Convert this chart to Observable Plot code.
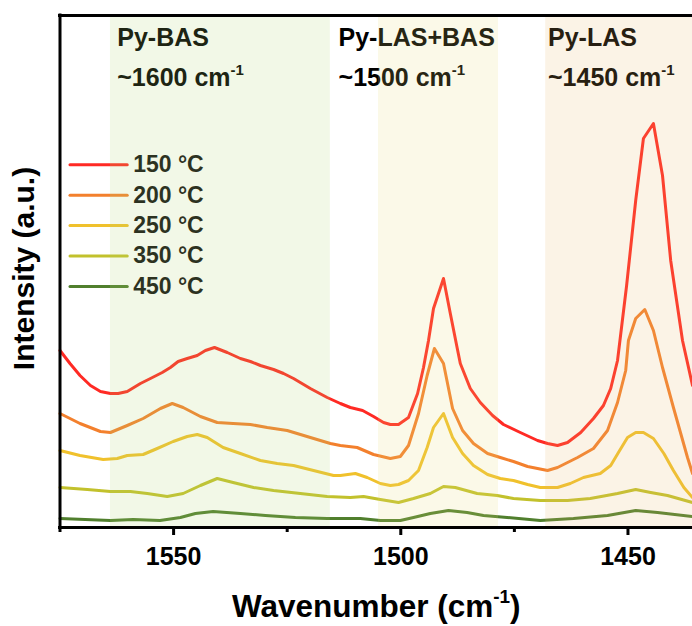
<!DOCTYPE html>
<html><head><meta charset="utf-8">
<script src="https://cdn.jsdelivr.net/npm/d3@7"></script>
<script src="https://cdn.jsdelivr.net/npm/@observablehq/plot@0.6"></script>
<style>
html,body{margin:0;padding:0;background:#fff;overflow:hidden;}
svg{display:block}
</style></head><body><div id="chart"></div>
<script>
// ---- series ----
const temps = ["150 °C", "200 °C", "250 °C", "350 °C", "450 °C"];
const colors = ["#ff2a24", "#f3802d", "#f0c12c", "#c2c12c", "#507f2d"];

const wn150 = [1575,1572.8,1570.6,1568.3,1566.1,1563.9,1562.2,1560.2,1557.3,1555.1,1552.5,1550.7,1549.0,1547.0,1544.8,1543.0,1541.0,1538.2,1535.3,1533.1,1530.9,1528.0,1525.8,1523.6,1519.9,1516.2,1513.3,1511.1,1508.4,1506.0,1503.8,1502.3,1500.5,1498.3,1496.3,1495.0,1493.9,1492.8,1490.6,1489.1,1487.7,1486.9,1484.7,1482.5,1479.8,1477.4,1473.7,1469.9,1467.7,1465.5,1463.3,1460.4,1457.6,1455.4,1453.8,1452.3,1450.3,1448.3,1446.6,1444.4,1442.4,1440.6,1438.0,1435.8];
const int150 = [177,164,152,142,136,134,134,136,144,149,155,160,166,169,172,177,180,175,169,166,162,158,154,149,139,130,124,120,117,111,105,103,103,110,134,160,187,219,249,214,182,164,139,125,112,103,95,87,84,82,85,95,109,122,139,167,242,327,389,404,352,267,187,142];

const wn200 = [1575,1570.6,1566.1,1563.9,1560.2,1556.7,1552.9,1550.3,1547.9,1544.1,1540.4,1536.9,1533.1,1529.4,1525.0,1519.9,1515.5,1513.3,1509.6,1506.0,1502.3,1500.1,1498.3,1496.1,1494.2,1492.6,1490.6,1488.6,1486.4,1484.0,1480.9,1478.1,1475.2,1472.1,1467.7,1465.5,1461.1,1457.6,1454.5,1452.3,1450.5,1449.9,1448.3,1446.3,1444.4,1442.4,1440.0,1436.9,1435.8];
const int200 = [114,104,96,95,102,109,119,124,120,111,105,104,103,100,97,90,84,82,80,73,69,71,82,114,152,179,164,119,97,84,74,70,66,61,57,60,70,79,97,125,157,187,209,218,197,160,120,70,54];

const wn250 = [1575,1570.6,1565.5,1562.4,1560.2,1556.7,1553.6,1550.1,1547.0,1544.8,1542.6,1539.1,1535.3,1530.9,1527.2,1523.6,1519.2,1514.8,1513.3,1510.0,1507.4,1504.5,1502.3,1500.5,1498.3,1496.1,1494.2,1492.8,1490.6,1488.6,1486.4,1484.0,1480.9,1478.1,1475.2,1472.1,1469.3,1465.5,1462.7,1459.8,1456.1,1453.8,1452.1,1450.1,1448.3,1446.6,1444.4,1442.1,1440.0,1437.7,1435.8];
const int250 = [77,72,68,69,72,73,79,86,91,93,90,80,74,67,64,62,57,52,52,54,50,44,42,43,47,57,80,100,114,90,74,62,53,49,47,43,40,40,44,50,54,62,75,90,95,95,89,74,57,40,30];

const wn350 = [1575,1569.0,1563.9,1559.5,1555.8,1551.4,1547.9,1544.1,1540.4,1536.9,1532.4,1528.0,1522.1,1516.2,1511.1,1508.2,1504.5,1500.5,1497.2,1493.5,1490.6,1488.0,1483.2,1478.8,1475.2,1469.3,1463.3,1458.3,1452.3,1448.3,1445.0,1441.3,1435.8];
const int350 = [40,38,36,36,34,31,34,42,49,45,40,37,34,31,30,31,28,25,29,34,41,40,34,32,29,27,27,29,34,38,35,32,25];

const wn450 = [1575,1563.9,1558.9,1553.0,1548.5,1545.2,1541.3,1535.3,1529.8,1523.2,1516.2,1508.9,1504.5,1500.1,1497.2,1493.5,1489.5,1485.4,1481.8,1476.6,1469.3,1462.0,1454.5,1448.3,1443.5,1435.8];
const int450 = [9,7,8,7,10,14,16,14,12,10,9,9,7,7,10,14,17,15,12,10,7,9,12,17,15,11];

// ---- annotation bands ----
const bandNames = ["Py-BAS", "Py-LAS+BAS", "Py-LAS"];
const bandPositions = ["~1600 cm-1", "~1500 cm-1", "~1450 cm-1"];
const bandStart = [1563.9, 1504.9, 1468.1];
const bandEnd = [1515.5, 1478.5, 1435.8];
const bandLabelX = [1562.4, 1513.7, 1467.6];
const bandColors = ["rgb(176,214,112)", "rgb(232,222,120)", "rgb(232,182,104)"];

// ---- axis ----
const majorTicks = [1550, 1500, 1450];
const minorTicks = [1575, 1525, 1475];
const xDomain = [1575, 1435.8];
const yDomain = [0, 512];

// ---- build tables ----
const wnAll = [wn150, wn200, wn250, wn350, wn450];
const intAll = [int150, int200, int250, int350, int450];
const rows = [];
for (let s = temps.length - 1; s >= 0; s--) {
  wnAll[s].forEach((w, i) => rows.push({series: temps[s], w, v: intAll[s][i]}));
}
const bands = bandNames.map((n, i) => ({x1: bandStart[i], x2: bandEnd[i], c: bandColors[i]}));
const nameLabels = bandNames.map((n, i) => ({x: bandLabelX[i], y: 482, t: n}));
const posLabels = bandPositions.map((n, i) => ({x: bandLabelX[i], y: 442, t: n}));
const legendTop = 362.7, legendStep = 30.4;
const legend = temps.map((t, i) => ({series: t, y: legendTop - i * legendStep, xa: 1572.8, xb: 1560.2, xt: 1558.9}));

const font = "Arial, 'Liberation Sans', sans-serif";
const chart = Plot.plot({
  width: 692, height: 626,
  marginLeft: 59.5, marginRight: 0, marginTop: 15, marginBottom: 99,
  x: {domain: xDomain, axis: null, label: null},
  y: {domain: yDomain, axis: null, label: null},
  color: {domain: temps, range: colors},
  style: {fontFamily: font, fontWeight: "bold", background: "white", color: "black"},
  marks: [
    Plot.line(rows, {x: "w", y: "v", z: "series", stroke: "series", strokeWidth: 3, strokeLinejoin: "round", strokeLinecap: "round"}),
    Plot.text(nameLabels, {x: "x", y: "y", text: "t", textAnchor: "start", lineAnchor: "bottom", fontSize: 25, fontWeight: "bold", fill: "black"}),
    Plot.text(posLabels, {x: "x", y: "y", text: "t", textAnchor: "start", lineAnchor: "bottom", fontSize: 25, fontWeight: "bold", fill: "black"}),
    Plot.link(legend, {x1: "xa", x2: "xb", y1: "y", y2: "y", stroke: "series", strokeWidth: 3, strokeLinecap: "round"}),
    Plot.text(legend, {x: "xt", y: "y", text: "series", textAnchor: "start", lineAnchor: "middle", fontSize: 23, fontWeight: "bold", fill: "#111"}),
    Plot.rect(bands, {x1: "x1", x2: "x2", y1: yDomain[0], y2: yDomain[1], fill: "c", fillOpacity: 0.17}),
    Plot.ruleX([xDomain[0]], {strokeWidth: 3, strokeLinecap: "square"}),
    Plot.ruleY([yDomain[1]], {strokeWidth: 3, strokeLinecap: "square"}),
    Plot.ruleY([yDomain[0]], {strokeWidth: 3, strokeLinecap: "square"}),
    Plot.axisX(majorTicks, {tickSize: 8, tickPadding: 12, strokeWidth: 3, fontSize: 25, fontWeight: "bold", fill: "black", tickFormat: d => String(d), label: null}),
    Plot.axisX(minorTicks, {tickSize: 5, strokeWidth: 3, tickFormat: () => "", label: null}),
    Plot.text(["Intensity (a.u.)"], {frameAnchor: "left", rotate: -90, dx: -47, dy: -3, lineAnchor: "top", textAnchor: "middle", fontSize: 30, fontWeight: "bold", fill: "black"}),
    Plot.text(["Wavenumber (cm-1)"], {frameAnchor: "bottom", dy: 89, lineAnchor: "bottom", textAnchor: "middle", fontSize: 31.5, fontWeight: "bold", fill: "black"})
  ]
});
document.getElementById("chart").append(chart);

// superscript the "-1" in cm-1
const NS = "http://www.w3.org/2000/svg";
chart.querySelectorAll("text").forEach(t => {
  const target = t.querySelector("tspan") || t;
  const s = target.textContent;
  const idx = s.indexOf("cm-1");
  if (idx < 0) return;
  const fs = parseFloat(getComputedStyle(t).fontSize) || 24;
  const pre = s.slice(0, idx + 2), post = s.slice(idx + 4);
  target.textContent = "";
  const a = document.createElementNS(NS, "tspan"); a.textContent = pre; target.appendChild(a);
  const b = document.createElementNS(NS, "tspan");
  b.setAttribute("dy", (-0.42 * fs).toFixed(1));
  b.setAttribute("font-size", (0.6 * fs).toFixed(1));
  b.textContent = "-1"; target.appendChild(b);
  if (post) {
    const c = document.createElementNS(NS, "tspan");
    c.setAttribute("dy", (0.42 * fs).toFixed(1));
    c.textContent = post; target.appendChild(c);
  }
});
</script></body></html>
